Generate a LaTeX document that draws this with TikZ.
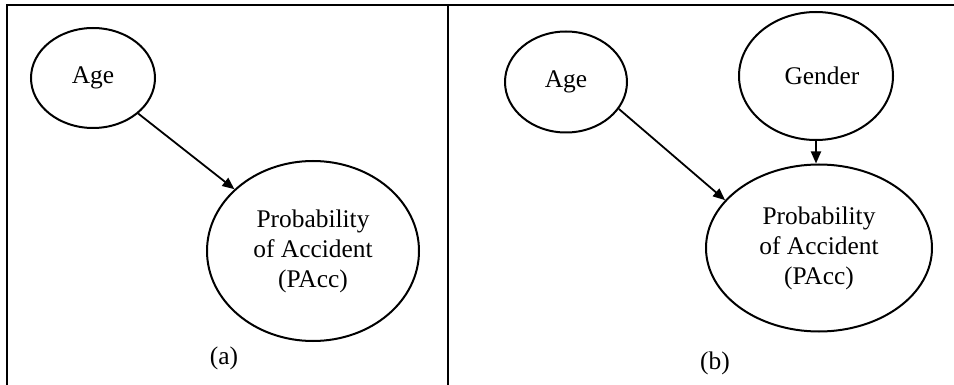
\documentclass[tikz,border=0pt]{standalone}
\usepackage{fontspec}
\setmainfont{Liberation Serif}
\usetikzlibrary{shapes.geometric, arrows.meta}

\begin{document}
\begin{tikzpicture}[
    x=0.5pt, y=-0.5pt,
    >={Triangle[length=6pt, width=5pt]},
    every node/.style={font=\fontsize{12.7}{15}\selectfont},
    varnode/.style={ellipse, draw, line width=1pt, inner sep=0pt,
        align=center},
    arrow/.style={->, line width=0.9pt},
    frameline/.style={line width=1.25pt},
    caption/.style={inner sep=0pt},
]
\useasboundingbox (0,0) rectangle (954,385);

% === FRAME ===
\draw[frameline] (6,5) -- (954,5);
\draw[frameline] (7,5) -- (7,385);
\draw[frameline] (448,5) -- (448,385);

% === PANEL (a) ===
\node[varnode, minimum width=62pt, minimum height=50pt] (agea) at (93,78) {Age};
\node[varnode, minimum width=106pt, minimum height=90pt] (pacca) at (313,251)
    {Probability\\of Accident\\(PAcc)};
\node[caption] (capa) at (224,358) {(a)};

\draw[arrow] (agea) -- (pacca);

% === PANEL (b) ===
\node[varnode, minimum width=61pt, minimum height=50.5pt] (ageb) at (566,82) {Age};
\node[varnode, minimum width=77pt, minimum height=64pt] (gender) at (816,76) {\hspace{6pt}Gender};
\node[varnode, minimum width=113pt, minimum height=83.5pt] (paccb) at (819,248)
    {Probability\\of Accident\\(PAcc)};
\node[caption] (capb) at (715,363) {(b)};

\draw[arrow] (ageb.-27) -- (paccb.153);
\draw[arrow] (gender) -- (gender |- paccb.north);

\end{tikzpicture}
\end{document}
